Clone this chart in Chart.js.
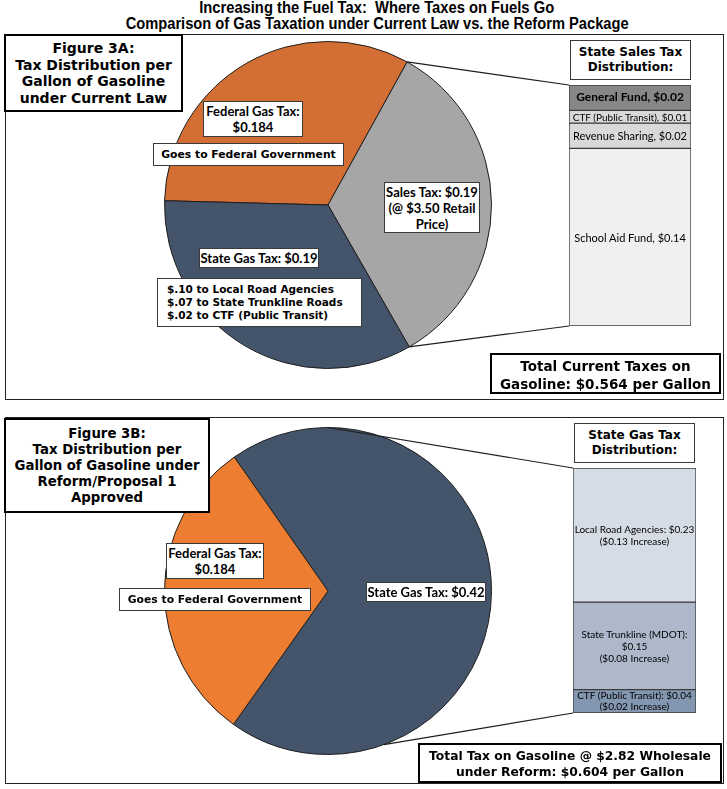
<!DOCTYPE html>
<html><head><meta charset="utf-8">
<script src="https://cdn.jsdelivr.net/npm/chart.js@4.4.1/dist/chart.umd.min.js"></script>
<style>
html,body{margin:0;padding:0;background:#fff;}
#page{position:relative;width:727px;height:789px;overflow:hidden;background:#fff;}
.abs{position:absolute;box-sizing:border-box;}
.panel{border:1px solid #222;}
.box{background:#fff;display:flex;flex-direction:column;justify-content:center;align-items:center;text-align:center;white-space:nowrap;}
.lbl{border:1px solid #3a3a3a;}
.fig{border:2px solid #000;}
.v{font-family:"DejaVu Sans",Verdana,sans-serif;font-weight:bold;color:#000;}
.c{font-family:Lato,"Open Sans",sans-serif;font-weight:bold;color:#000;}
.tline{position:absolute;left:0;width:754px;text-align:center;font-family:"Liberation Sans Narrow","Arial Narrow","Liberation Sans",Arial,sans-serif;font-weight:bold;font-size:16px;line-height:16px;color:#000;white-space:nowrap;}
.tline span{display:inline-block;transform-origin:50% 50%;}
canvas{position:absolute;}
#lines{position:absolute;left:0;top:0;}
.seg{position:absolute;display:flex;flex-direction:column;justify-content:center;align-items:center;text-align:center;white-space:nowrap;font-family:Lato,"Open Sans",sans-serif;color:#000;line-height:1.2;}
</style></head>
<body><div id="page">
  <div class="tline" style="top:0px;"><span id="t1" data-w="355">Increasing the Fuel Tax:&nbsp; Where Taxes on Fuels Go</span></div>
  <div class="tline" style="top:16px;"><span id="t2" data-w="503">Comparison of Gas Taxation under Current Law vs. the Reform Package</span></div>
  <div class="abs panel" style="left:5px;top:34px;width:719px;height:366px;"></div>
  <div class="abs panel" style="left:5px;top:417px;width:719px;height:367px;"></div>
  <canvas id="pieA" width="330" height="330" style="left:163px;top:40px;width:330px;height:330px;"></canvas>
  <canvas id="barA" width="122" height="241" style="left:569px;top:85px;width:122px;height:241px;"></canvas>
  <canvas id="pieB" width="330" height="330" style="left:163px;top:426px;width:330px;height:330px;"></canvas>
  <canvas id="barB" width="123" height="245" style="left:573px;top:468px;width:123px;height:245px;"></canvas>
  <svg id="lines" width="727" height="789"></svg>
  <div id="labels"></div>

  <div class="abs box fig v" style="left:4px;top:34px;width:179px;height:78px;font-size:14px;line-height:16.5px;">Figure 3A:<br>Tax Distribution per<br>Gallon of Gasoline<br>under Current Law</div>
  <div class="abs box fig v" style="left:4px;top:418px;width:206px;height:95px;font-size:13.3px;line-height:16px;">Figure 3B:<br>Tax Distribution per<br>Gallon of Gasoline under<br>Reform/Proposal 1<br>Approved</div>

  <div id="fedA" class="abs box lbl c" style="left:203px;top:101px;width:100px;height:36px;font-size:13px;line-height:16px;"></div>
  <div class="abs box lbl v" style="left:153px;top:143px;width:191px;height:23px;font-size:10.8px;">Goes to Federal Government</div>
  <div id="salesA" class="abs box lbl c" style="left:384px;top:182px;width:96px;height:51px;font-size:13px;line-height:16px;"></div>
  <div id="stateA" class="abs box lbl c" style="left:199px;top:248px;width:120px;height:20px;font-size:13px;"></div>
  <div class="abs lbl v" style="left:157px;top:278px;width:205px;height:49px;background:#fff;font-size:10.5px;line-height:13px;padding:4px 0 0 9px;white-space:nowrap;">$.10 to Local Road Agencies<br>$.07 to State Trunkline Roads<br>$.02 to CTF (Public Transit)</div>
  <div class="abs box lbl v" style="left:570px;top:40px;width:121px;height:40px;font-size:12px;line-height:15px;">State Sales Tax<br>Distribution:</div>
  <div class="abs fig v" style="left:490px;top:353px;width:231px;height:41px;background:#fff;font-size:13.5px;line-height:18px;padding-top:2px;text-align:center;overflow:hidden;white-space:nowrap;">Total Current Taxes on<br>Gasoline: $0.564 per Gallon</div>

  <div id="fedB" class="abs box lbl c" style="left:166px;top:543px;width:98px;height:36px;font-size:13px;line-height:16px;"></div>
  <div class="abs box lbl v" style="left:119px;top:588px;width:192px;height:23px;font-size:10.8px;">Goes to Federal Government</div>
  <div id="stateB" class="abs box lbl c" style="left:366px;top:582px;width:120px;height:20px;font-size:13px;"></div>
  <div class="abs box lbl v" style="left:574px;top:423px;width:121px;height:40px;font-size:12px;line-height:15px;">State Gas Tax<br>Distribution:</div>
  <div class="abs fig v" style="left:418px;top:743px;width:304px;height:40px;background:#fff;font-size:12.3px;line-height:16px;padding-top:3px;text-align:center;overflow:hidden;white-space:nowrap;">Total Tax on Gasoline @ $2.82 Wholesale<br>under Reform: $0.604 per Gallon</div>
</div>
<script>
// ---- Data ----
const pieACategories = ["Federal Gas Tax", "Sales Tax", "State Gas Tax"];
const pieAValues = [0.184, 0.19, 0.19];
const barACategories = ["General Fund", "CTF (Public Transit)", "Revenue Sharing", "School Aid Fund"];
const barAValues = [0.02, 0.01, 0.02, 0.14];
const pieBCategories = ["State Gas Tax", "Federal Gas Tax"];
const pieBValues = [0.42, 0.184];
const barBCategories = ["Local Road Agencies", "State Trunkline (MDOT)", "CTF (Public Transit)"];
const barBValues = [0.23, 0.15, 0.04];
const barBIncreases = [0.13, 0.08, 0.02];
const retailPrice = 3.50;

// ---- Styles ----
const pieAColors = ["#D36F35", "#A6A6A6", "#44546A"];
const pieBColors = ["#44546A", "#ED7D31"];
const barAColors = ["#878787", "#D9D9D9", "#D9D9D9", "#F0F0F0"];
const barBColors = ["#D6DCE5", "#ADB9CA", "#8497B0"];

// Title narrowing (stands in for Arial Narrow)
["t1", "t2"].forEach(id => {
  const s = document.getElementById(id);
  const w = s.getBoundingClientRect().width;
  s.style.transform = "scaleX(" + (parseFloat(s.dataset.w) / w) + ")";
});

const money = (v, d) => "$" + v.toFixed(d);

document.getElementById("fedA").innerHTML = pieACategories[0] + ":<br>" + money(pieAValues[0], 3);
document.getElementById("salesA").innerHTML = pieACategories[1] + ": " + money(pieAValues[1], 2) + "<br>(@ " + money(retailPrice, 2) + " Retail<br>Price)";
document.getElementById("stateA").innerHTML = pieACategories[2] + ": " + money(pieAValues[2], 2);
document.getElementById("fedB").innerHTML = pieBCategories[1] + ":<br>" + money(pieBValues[1], 3);
document.getElementById("stateB").innerHTML = pieBCategories[0] + ": " + money(pieBValues[0], 2);

const common = {responsive:false, animation:false, events:[], plugins:{legend:{display:false}, tooltip:{enabled:false}}};

function makePie(id, cats, vals, colors, rot) {
  return new Chart(document.getElementById(id), {
    type: "pie",
    data: {labels: cats, datasets: [{data: vals, backgroundColor: colors, borderColor: "#1e1e1e", borderWidth: 1}]},
    options: Object.assign({}, common, {rotation: rot, layout: {padding: 1}})
  });
}
function makeBar(id, cats, vals, colors) {
  const total = vals.reduce((a, b) => a + b, 0);
  return new Chart(document.getElementById(id), {
    type: "bar",
    data: {labels: [""], datasets: cats.map((c, i) => ({label: c, data: [vals[i]], backgroundColor: colors[i], borderColor: "#3c3c3c", borderWidth: 1, borderSkipped: false, barPercentage: 1, categoryPercentage: 1}))},
    options: Object.assign({}, common, {layout: {padding: 0},
      scales: {x: {display: false, stacked: true}, y: {display: false, stacked: true, min: 0, max: total, reverse: true}}})
  });
}

const pieA = makePie("pieA", pieACategories, pieAValues, pieAColors, -88.5);
const pieB = makePie("pieB", pieBCategories, pieBValues, pieBColors, -35);
const barA = makeBar("barA", barACategories, barAValues, barAColors);
const barB = makeBar("barB", barBCategories, barBValues, barBColors);

function offs(chart) { const c = chart.canvas; return {x: parseFloat(c.style.left), y: parseFloat(c.style.top)}; }

// Segment labels
const barALabels = barACategories.map((c, i) => c + ", " + money(barAValues[i], 2));
const barAStyles = ["font-size:12px;font-weight:bold;", "font-size:10px;", "font-size:11px;", "font-size:11px;"];
const barBLabels = [
  barBCategories[0] + ": " + money(barBValues[0], 2) + "<br>(" + money(barBIncreases[0], 2) + " Increase)",
  barBCategories[1] + ":<br>" + money(barBValues[1], 2) + "<br>(" + money(barBIncreases[1], 2) + " Increase)",
  barBCategories[2] + ": " + money(barBValues[2], 2) + "<br>(" + money(barBIncreases[2], 2) + " Increase)"
];
const barBStyles = ["font-size:10px;", "font-size:10px;", "font-size:10px;line-height:11px;"];
const holder = document.getElementById("labels");
function placeLabels(chart, texts, styles) {
  const o = offs(chart);
  texts.forEach((t, i) => {
    const el = chart.getDatasetMeta(i).data[0];
    const top = Math.min(el.y, el.base), h = Math.abs(el.base - el.y);
    const d = document.createElement("div");
    d.className = "seg";
    d.style.cssText += "left:" + (o.x + el.x - el.width / 2) + "px;top:" + (o.y + top) + "px;width:" + el.width + "px;height:" + h + "px;" + styles[i];
    d.innerHTML = t;
    holder.appendChild(d);
  });
}
placeLabels(barA, barALabels, barAStyles);
placeLabels(barB, barBLabels, barBStyles);

// Connector lines
const svg = document.getElementById("lines");
function line(x1, y1, x2, y2) {
  const l = document.createElementNS("http://www.w3.org/2000/svg", "line");
  l.setAttribute("x1", x1); l.setAttribute("y1", y1); l.setAttribute("x2", x2); l.setAttribute("y2", y2);
  l.setAttribute("stroke", "#1e1e1e"); l.setAttribute("stroke-width", "1.2");
  svg.appendChild(l);
}
function arcPoint(chart, angle) {
  const a = chart.getDatasetMeta(0).data[0], o = offs(chart);
  return {x: o.x + a.x + a.outerRadius * Math.cos(angle), y: o.y + a.y + a.outerRadius * Math.sin(angle)};
}
function barCorners(chart) {
  const o = offs(chart), ca = chart.chartArea;
  return {left: o.x + ca.left, top: o.y + ca.top, bottom: o.y + ca.bottom};
}
const sa = pieA.getDatasetMeta(0).data[1];
let p1 = arcPoint(pieA, sa.startAngle), p2 = arcPoint(pieA, sa.endAngle), bc = barCorners(barA);
line(p1.x, p1.y, bc.left, bc.top);
line(p2.x, p2.y, bc.left, bc.bottom);
const deg = d => (d - 90) * Math.PI / 180;
p1 = arcPoint(pieB, deg(0)); p2 = arcPoint(pieB, deg(160)); bc = barCorners(barB);
line(p1.x, p1.y, bc.left, bc.top);
line(p2.x, p2.y, bc.left, bc.bottom);
</script>
</body></html>
